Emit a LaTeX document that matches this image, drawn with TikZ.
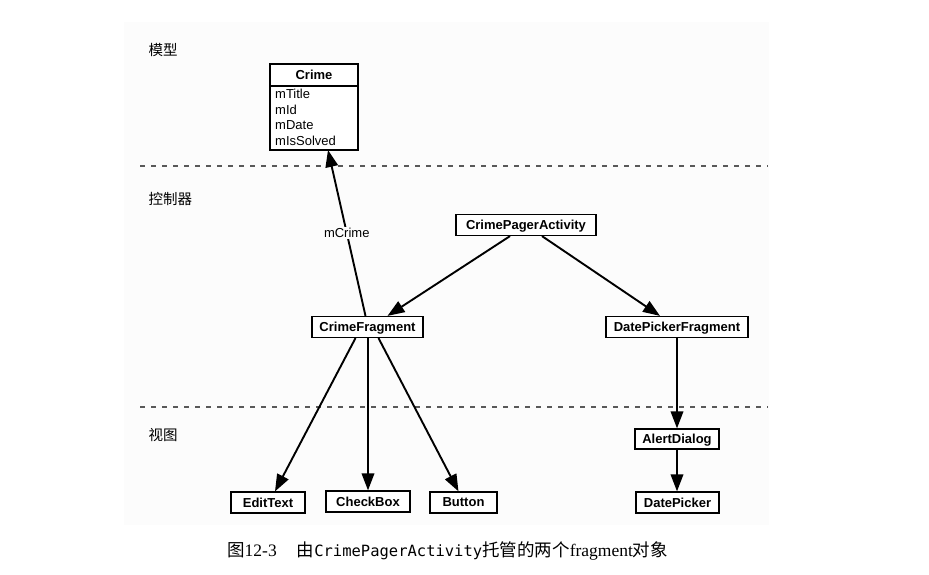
\documentclass[tikz,border=0pt]{standalone}
\usepackage{fontspec}
\setmainfont{Liberation Sans}
\newfontfamily\cjk{Noto Sans CJK SC}
\newfontfamily\capserif{Liberation Serif}
\newfontfamily\capmono{DejaVu Sans Mono}
\usetikzlibrary{arrows.meta}
\newcommand\capcjk[1]{{\cjk\fontsize{17.5}{18}\selectfont #1}}
\newcommand\capser[1]{{\capserif\fontsize{17.5}{18}\selectfont #1}}
\newcommand\capcode[1]{{\capmono\fontsize{15.5}{18}\selectfont #1}}
\begin{document}
\begin{tikzpicture}[x=1pt,y=-1pt,
  cls/.style={draw,line width=1.2pt,fill=white,inner sep=0pt,minimum height=21pt,
    font=\fontsize{13}{13}\selectfont\bfseries,text depth=0pt},
  link/.style={line width=1.9pt,-{Triangle[length=17pt,width=12.5pt]}},
  layer/.style={anchor=west,font=\cjk\fontsize{14.5}{15}\selectfont},
  sep/.style={line width=2pt,black!65,dash pattern=on 4.5pt off 6.5pt},
  attr/.style={anchor=west,inner sep=0pt,font=\fontsize{13}{13}\selectfont}]
  \useasboundingbox (0,0) rectangle (929,575);
  \fill[black!1] (124,22) rectangle (769,525);

  % layer separators and titles
  \draw[sep] (140,166) -- (768,166);
  \draw[sep] (140,407) -- (768,407);
  \node[layer] (lmodel) at (145,50) {模型};
  \node[layer] (lctrl) at (145,199) {控制器};
  \node[layer] (lview) at (145,435) {视图};

  % model class
  \draw[line width=1.2pt,fill=white] (270,64) rectangle (358,150);
  \draw[line width=1.2pt] (270,86) -- (358,86);
  \coordinate (crimebot) at (328,150);
  \node[font=\fontsize{13}{13}\selectfont\bfseries] (crime) at (314,75) {Crime};
  \node[attr] (a1) at (275,94) {mTitle};
  \node[attr] (a2) at (275,109.5) {mId};
  \node[attr] (a3) at (275,125) {mDate};
  \node[attr] (a4) at (275,140.5) {mIsSolved};

  % controllers
  \node[cls,minimum width=140pt] (cpa) at (526,225) {CrimePagerActivity};
  \node[cls,minimum width=111pt] (cf) at (367.5,327) {CrimeFragment};
  \node[cls,minimum width=142pt] (dpf) at (677,327) {DatePickerFragment};

  % views
  \node[cls,minimum width=84pt,minimum height=20pt] (ad) at (677,439) {AlertDialog};
  \node[cls,minimum width=83pt] (dp) at (677.5,502.5) {DatePicker};
  \node[cls,minimum width=74pt] (et) at (268,502.5) {EditText};
  \node[cls,minimum width=84pt] (cb) at (368,501.5) {CheckBox};
  \node[cls,minimum width=67pt] (bt) at (463.5,502.5) {Button};

  % associations
  \draw[link] ([xshift=-2pt]cf.north) -- (crimebot)
    node[pos=0.5,fill=black!1,inner sep=1.5pt,font=\fontsize{13}{13}\selectfont] (mc) {mCrime};
  \draw[link] ([xshift=-16pt]cpa.south) -- ([xshift=20pt]cf.north);
  \draw[link] ([xshift=16pt]cpa.south) -- ([xshift=-17pt]dpf.north);
  \draw[link] (dpf.south) -- (ad.north);
  \draw[link] (ad.south) -- ([xshift=-0.5pt]dp.north);
  \draw[link] ([xshift=-12pt]cf.south) -- ([xshift=7pt]et.north);
  \draw[link] ([xshift=0.5pt]cf.south) -- (cb.north);
  \draw[link] ([xshift=11pt]cf.south) -- ([xshift=-5pt]bt.north);

  % caption
  \node[anchor=west,inner sep=0pt] (cap) at (227,551)
    {\capcjk{图}\capser{12-3}\hspace{20pt}\capcjk{由}\capcode{CrimePagerActivity}\capcjk{托管的两个}\capser{fragment}\capcjk{对象}};
\end{tikzpicture}
\end{document}
